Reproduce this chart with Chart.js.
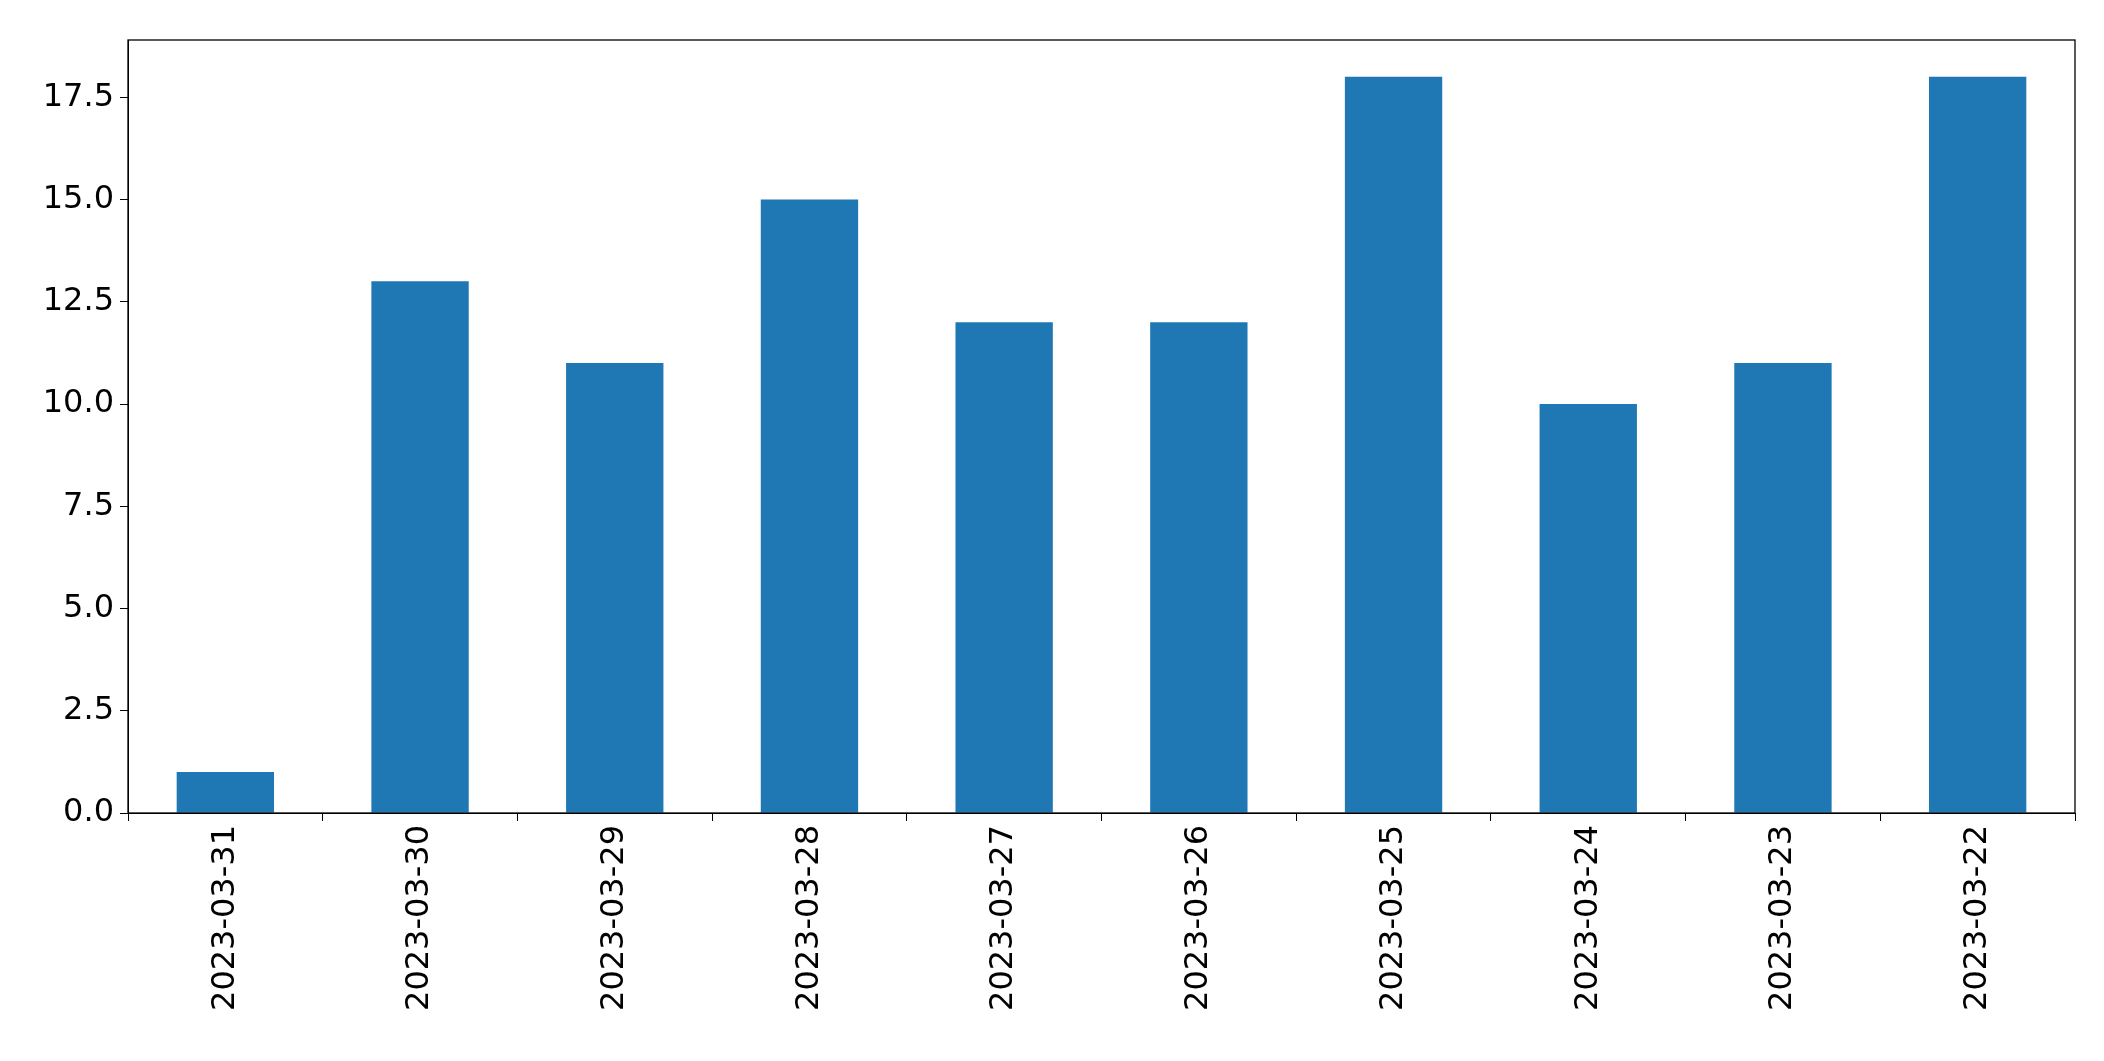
<!DOCTYPE html>
<html><head><meta charset="utf-8">
<script src="https://cdn.jsdelivr.net/npm/chart.js@4"></script>
<style>html,body{margin:0;padding:0;background:#fff}#w{width:2104px;height:1061px}</style>
</head><body><div id="w"><canvas id="c"></canvas></div>
<script>
const categories=["2023-03-31","2023-03-30","2023-03-29","2023-03-28","2023-03-27","2023-03-26","2023-03-25","2023-03-24","2023-03-23","2023-03-22"];
const values=[1,13,11,15,12,12,18,10,11,18];
const frame={id:'frame',afterDraw(c){const a=c.chartArea,x=c.ctx;x.save();x.strokeStyle='#000';x.lineWidth=1.3;x.strokeRect(a.left,a.top,a.right-a.left,a.bottom-a.top);x.restore();}};
new Chart(document.getElementById('c'),{type:'bar',
data:{labels:categories,datasets:[{data:values,backgroundColor:'#1f77b4',categoryPercentage:1,barPercentage:0.5}]},
options:{responsive:true,maintainAspectRatio:false,animation:false,
layout:{padding:{top:40,right:29,left:0,bottom:0}},
plugins:{legend:{display:false},tooltip:{enabled:false}},
scales:{
x:{grid:{drawOnChartArea:false,color:'#000',tickLength:8},border:{color:'#000'},
ticks:{color:'#000',font:{family:'DejaVu Sans',size:32},minRotation:90,maxRotation:90,padding:4},
afterFit(s){s.height=248;}},
y:{min:0,max:18.9,grid:{drawOnChartArea:false,color:'#000',tickLength:8},border:{color:'#000'},
ticks:{color:'#000',font:{family:'DejaVu Sans',size:32},stepSize:2.5,padding:6,callback:v=>v.toFixed(1)},
afterBuildTicks(s){s.ticks=s.ticks.filter(t=>t.value<=17.5+1e-9);},
afterFit(s){s.width=128;}}
}},plugins:[frame]});
</script></body></html>
